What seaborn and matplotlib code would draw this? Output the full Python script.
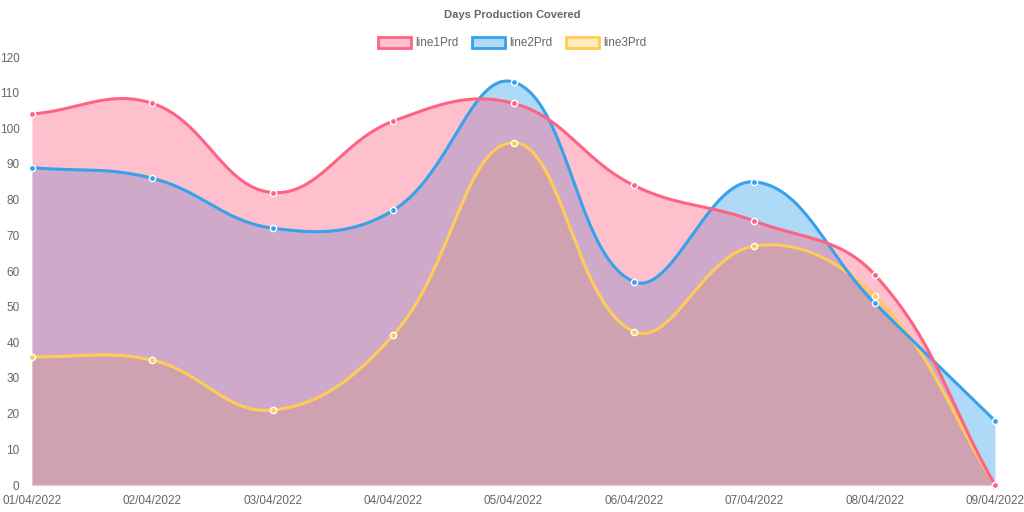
import numpy as np
import pandas as pd
import matplotlib
matplotlib.use("Agg")
import matplotlib.pyplot as plt
from matplotlib.patches import Patch
import seaborn as sns

dates = ["01/04/2022", "02/04/2022", "03/04/2022", "04/04/2022", "05/04/2022",
         "06/04/2022", "07/04/2022", "08/04/2022", "09/04/2022"]
line1Prd = [104, 107, 82, 102, 107, 84, 74, 59, 0]
line2Prd = [89, 86, 72, 77, 113, 57, 85, 51, 18]
line3Prd = [36, 35, 21, 42, 96, 43, 67, 53, 0]
series_names = ["line1Prd", "line2Prd", "line3Prd"]
colors = ["#ff6384", "#36a2eb", "#ffcd56"]

sns.set_theme(style="white")
plt.rcParams['font.family'] = ['Liberation Sans', 'DejaVu Sans']

W, H = 1024, 512
fig = plt.figure(figsize=(W / 100, H / 100), dpi=100)
L, R, T, B = 32, 995, 57, 485
ax = fig.add_axes([L / W, 1 - B / H, (R - L) / W, (B - T) / H])
YMAX = 120
n = len(dates)
sx = (R - L) / (n - 1)
sy = (B - T) / YMAX
FILL_ALPHA = 0.4


def spline(values, tension=0.4, samples=40):
    # Chart.js-style cubic spline computed in pixel space
    P = np.array([[i * sx, v * sy] for i, v in enumerate(values)], dtype=float)
    m = len(P)
    cp_prev = P.copy()
    cp_next = P.copy()
    for i in range(m):
        prev = P[max(i - 1, 0)]
        cur = P[i]
        nxt = P[min(i + 1, m - 1)]
        d01 = np.hypot(*(cur - prev))
        d12 = np.hypot(*(nxt - cur))
        tot = d01 + d12
        s01 = d01 / tot if tot else 0
        s12 = d12 / tot if tot else 0
        fa = tension * s01
        fb = tension * s12
        cp_prev[i] = cur - fa * (nxt - prev)
        cp_next[i] = cur + fb * (nxt - prev)
    for arr in (cp_prev, cp_next):
        arr[:, 0] = np.clip(arr[:, 0], 0, (n - 1) * sx)
        arr[:, 1] = np.clip(arr[:, 1], 0, YMAX * sy)
    xs, ys = [], []
    t = np.linspace(0, 1, samples)
    for i in range(m - 1):
        p0, p1, p2, p3 = P[i], cp_next[i], cp_prev[i + 1], P[i + 1]
        seg = ((1 - t) ** 3)[:, None] * p0 + (3 * (1 - t) ** 2 * t)[:, None] * p1 \
            + (3 * (1 - t) * t ** 2)[:, None] * p2 + (t ** 3)[:, None] * p3
        if i > 0:
            seg = seg[1:]
        xs.append(seg[:, 0])
        ys.append(seg[:, 1])
    return np.concatenate(xs) / sx, np.concatenate(ys) / sy


all_series = [line1Prd, line2Prd, line3Prd]
# Chart.js draws the first dataset on top -> draw in reverse
for k in [2, 1, 0]:
    vals = all_series[k]
    cx, cy = spline(vals)
    ax.fill_between(cx, 0, cy, color=colors[k], alpha=FILL_ALPHA, linewidth=0, zorder=1 + (2 - k))
for k in [2, 1, 0]:
    vals = all_series[k]
    cx, cy = spline(vals)
    df = pd.DataFrame({"x": cx, "y": cy})
    sns.lineplot(data=df, x="x", y="y", sort=False, estimator=None, ax=ax,
                 color=colors[k], linewidth=2.2, zorder=5 + (2 - k))
for k in [2, 1, 0]:
    vals = all_series[k]
    dp = pd.DataFrame({"x": np.arange(n), "y": vals})
    sns.scatterplot(data=dp, x="x", y="y", ax=ax, color=colors[k], s=20,
                    edgecolor="white", linewidth=1.0, zorder=10 + (2 - k), clip_on=False)

ax.set_xlim(0, n - 1)
ax.set_ylim(0, YMAX)
ax.set_xticks(np.arange(n))
ax.set_xticklabels(dates)
ax.set_yticks(np.arange(0, 121, 10))
ax.set_xlabel("")
ax.set_ylabel("")
for s in ["top", "right", "left"]:
    ax.spines[s].set_visible(False)
ax.spines["bottom"].set_color("#e6e6e6")
ax.spines["bottom"].set_linewidth(1)
ax.tick_params(axis="both", colors="#666666", labelsize=8.5, length=0)
ax.tick_params(axis="x", pad=7)
ax.tick_params(axis="y", pad=9)
ax.grid(False)

handles = [Patch(facecolor=matplotlib.colors.to_rgba(c, FILL_ALPHA), edgecolor=c, linewidth=2)
           for c in colors]
fig.legend(handles, series_names, loc="center", bbox_to_anchor=(0.5, 1 - 43 / H),
           ncol=3, frameon=False, fontsize=8.5, labelcolor="#666666",
           handlelength=2.8, handleheight=1.1, handletextpad=0.4, columnspacing=1.1)
fig.text(0.5, 1 - 15 / H, "Days Production Covered", ha="center", va="center",
         fontsize=8, fontweight="bold", color="#666666")

fig.savefig("out.png", dpi=100)
